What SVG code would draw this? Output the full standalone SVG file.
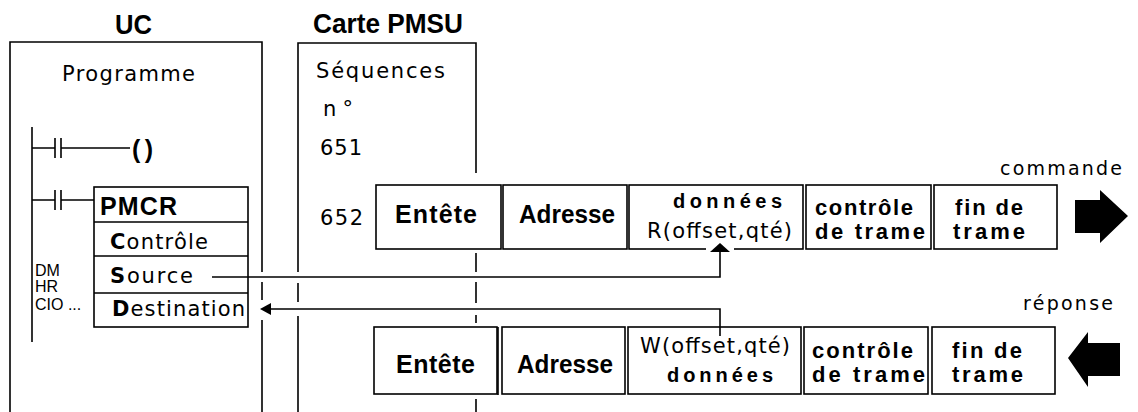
<svg xmlns="http://www.w3.org/2000/svg" width="1138" height="412" viewBox="0 0 1138 412">
<style>
.ln{fill:none;stroke:#000;stroke-width:1.6}
.box{fill:#fff;stroke:#000;stroke-width:1.6}
.t{font-family:"Liberation Sans",Arial,sans-serif;fill:#000}
.r{font-family:"DejaVu Sans","Liberation Sans",sans-serif;fill:#000;font-size:21px}
.b{font-family:"Liberation Sans",Arial,sans-serif;font-weight:bold;fill:#000}
.s{font-family:"DejaVu Sans","Liberation Sans",sans-serif;fill:#000;font-size:19px}
.fill{fill:#000}
</style>
<rect width="1138" height="412" fill="#fff"/>

<g id="uc">
  <text class="b" x="115" y="34" font-size="27" textLength="37" lengthAdjust="spacingAndGlyphs">UC</text>
  <path class="ln" d="M10,412 V42 H262 V272 M262,282 V300 M262,320 V412"/>
  <text class="r" x="62" y="81" textLength="133">Programme</text>
</g>

<g id="pmsu">
  <text class="b" x="313" y="33" font-size="27" textLength="150" lengthAdjust="spacingAndGlyphs">Carte PMSU</text>
  <path class="ln" d="M298,412 V316 M298,302 V283 M298,272 V43 H476 V173 M476,253 V272 M476,282 V303 M476,315 V323 M476,399 V412"/>
  <text class="r" x="316" y="78" textLength="129">Séquences</text>
  <text class="r" x="323" y="116" font-size="22" textLength="30">n°</text>
  <text class="r" x="320" y="155" textLength="42">651</text>
  <text class="r" x="320" y="225" textLength="43">652</text>
</g>

<g id="ladder">
  <path class="ln" d="M32,127 V342"/>
  <path class="ln" d="M32,148 H55 M55,138 V158 M61,138 V158 M61,148 H130"/>
  <text class="b" x="132" y="158" font-size="25" textLength="21">()</text>
  <path class="ln" d="M32,200 H55 M55,190 V210 M61,190 V210 M61,200 H94"/>
  <text class="t" x="35" y="276" font-size="16">DM</text>
  <text class="t" x="35" y="292" font-size="16">HR</text>
  <text class="t" x="35" y="310" font-size="16">CIO ...</text>
</g>

<g id="pmcr">
  <rect class="box" x="94" y="187" width="154" height="140"/>
  <path class="ln" d="M94,222 H248 M94,256 H248 M94,293 H248"/>
  <text class="b" x="100" y="215" font-size="25" textLength="77">PMCR</text>
  <text class="r" x="110" y="249" textLength="98"><tspan font-weight="bold">C</tspan>ontrôle</text>
  <text class="r" x="110" y="283" textLength="83"><tspan font-weight="bold">S</tspan>ource</text>
  <text class="r" x="112" y="316" textLength="133"><tspan font-weight="bold">D</tspan>estination</text>
</g>

<g id="commande">
  <text class="s" x="1000" y="175" textLength="122">commande</text>
  <g id="cmd-entete">
    <rect class="box" x="376" y="185" width="125" height="64"/>
    <text class="b" x="395" y="223" font-size="25" textLength="82">Entête</text>
  </g>
  <g id="cmd-adresse">
    <rect class="box" x="503" y="185" width="124" height="64"/>
    <text class="b" x="519" y="223" font-size="25" textLength="96" lengthAdjust="spacingAndGlyphs">Adresse</text>
  </g>
  <g id="cmd-donnees">
    <rect class="box" x="629" y="185" width="174" height="64"/>
    <text class="b" x="673" y="208" font-size="20" textLength="109">données</text>
    <text class="r" x="647" y="238" textLength="145">R(offset,qté)</text>
  </g>
  <g id="cmd-controle">
    <rect class="box" x="806" y="185" width="125" height="64"/>
    <text class="b" x="815" y="215" font-size="22" textLength="98">contrôle</text>
    <text class="b" x="815" y="239" font-size="22" textLength="110">de trame</text>
  </g>
  <g id="cmd-fin">
    <rect class="box" x="934" y="185" width="123" height="64"/>
    <text class="b" x="955" y="215" font-size="22" textLength="68">fin de</text>
    <text class="b" x="953" y="239" font-size="22" textLength="72">trame</text>
  </g>
  <polygon id="cmd-arrow" class="fill" points="1075,200 1100,200 1100,190 1128,216 1100,243 1100,233 1075,233"/>
</g>

<g id="reponse">
  <text class="s" x="1023" y="310" textLength="90">réponse</text>
  <g id="rep-entete">
    <rect class="box" x="374" y="327" width="123" height="67"/>
    <path class="ln" d="M498,327 V395" stroke-width="2"/>
    <text class="b" x="396" y="373" font-size="25" textLength="79">Entête</text>
  </g>
  <g id="rep-adresse">
    <rect class="box" x="502" y="327" width="123" height="67"/>
    <text class="b" x="517" y="373" font-size="25" textLength="96" lengthAdjust="spacingAndGlyphs">Adresse</text>
  </g>
  <g id="rep-donnees">
    <rect class="box" x="628" y="327" width="173" height="67"/>
    <text class="r" x="640" y="353" textLength="150">W(offset,qté)</text>
    <text class="b" x="667" y="382" font-size="20" textLength="106">données</text>
  </g>
  <g id="rep-controle">
    <rect class="box" x="804" y="327" width="124" height="67"/>
    <text class="b" x="812" y="358" font-size="22" textLength="101">contrôle</text>
    <text class="b" x="812" y="382" font-size="22" textLength="113">de trame</text>
  </g>
  <g id="rep-fin">
    <rect class="box" x="932" y="327" width="123" height="67"/>
    <text class="b" x="952" y="358" font-size="22" textLength="70">fin de</text>
    <text class="b" x="952" y="382" font-size="22" textLength="71">trame</text>
  </g>
  <polygon id="rep-arrow" class="fill" points="1068,358 1088,332 1088,343 1120,343 1120,376 1088,376 1088,387"/>
</g>

<g id="connectors">
  <path class="ln" d="M212,277 H720 V252"/>
  <rect x="706" y="246" width="28" height="6" fill="#fff"/>
  <polygon class="fill" points="720,243 710,252 730,252"/>
  <path class="ln" d="M720,336 V309 H270"/>
  <polygon class="fill" points="260,309 271,303 271,315"/>
</g>
</svg>
